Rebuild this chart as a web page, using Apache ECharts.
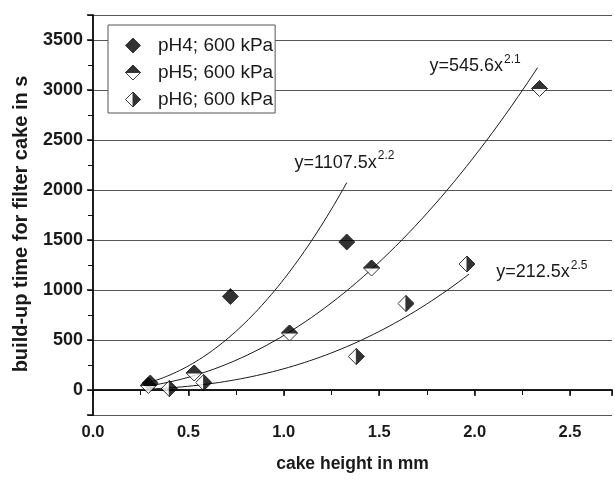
<!DOCTYPE html>
<html>
<head>
<meta charset="utf-8">
<script src="https://cdn.jsdelivr.net/npm/echarts@6/dist/echarts.min.js"></script>
<style>
html, body { margin: 0; padding: 0; background: #fff; }
#chart { width: 615px; height: 482px; }
</style>
</head>
<body>
<div id="chart"></div>
<script>
// Measured build-up times (s) against cake height (mm)
const seriesNames = ['pH4; 600 kPa', 'pH5; 600 kPa', 'pH6; 600 kPa'];

const ph4Height = [0.30, 0.72, 1.33];
const ph4Time   = [70, 935, 1480];

const ph5Height = [0.29, 0.53, 1.03, 1.46, 2.34];
const ph5Time   = [45, 170, 570, 1220, 3015];

const ph6Height = [0.40, 0.58, 1.38, 1.64, 1.96];
const ph6Time   = [15, 75, 335, 865, 1260];

// Power-law fits y = a * x^b, drawn over the measured range
const fitCoef  = [1107.5, 545.6, 212.5];
const fitExp   = [2.2, 2.1, 2.5];
const fitStart = [0.30, 0.30, 0.30];
const fitEnd   = [1.33, 2.33, 1.97];

const xTicks = [0, 0.5, 1.0, 1.5, 2.0, 2.5];
const yTicks = [0, 500, 1000, 1500, 2000, 2500, 3000, 3500];

const FONT = '"Liberation Sans", Arial, Helvetica, sans-serif';

function svgSymbol(inner) {
  const svg = "<svg xmlns='http://www.w3.org/2000/svg' width='34' height='34' viewBox='0 0 34 34'>" + inner + "</svg>";
  return 'image://data:image/svg+xml;charset=utf-8,' + encodeURIComponent(svg);
}
const outline = "<path d='M17 1 L33 17 L17 33 L1 17 Z' fill='white' stroke='black' stroke-width='2'/>";
const symbols = [
  svgSymbol("<path d='M17 1 L33 17 L17 33 L1 17 Z' fill='black' stroke='black' stroke-width='2'/>"),
  svgSymbol(outline + "<path d='M17 1 L33 17 L1 17 Z' fill='black' stroke='black' stroke-width='2'/>"),
  svgSymbol(outline + "<path d='M17 1 L33 17 L17 33 Z' fill='black' stroke='black' stroke-width='2'/>")
];

function fitCurve(i) {
  const pts = [];
  const n = 60;
  for (let k = 0; k <= n; k++) {
    const x = fitStart[i] + (fitEnd[i] - fitStart[i]) * k / n;
    pts.push([x, fitCoef[i] * Math.pow(x, fitExp[i])]);
  }
  return pts;
}

function pair(xs, ys) { return xs.map((x, i) => [x, ys[i]]); }

const eqAnchors = [[1.056, 2290], [1.763, 3255], [2.113, 1195]];

const fitSeries = fitCoef.map((a, i) => ({
  type: 'line',
  name: 'fit' + i,
  data: fitCurve(i),
  showSymbol: false,
  symbol: 'none',
  lineStyle: { color: '#1a1a1a', width: 1 },
  z: 2,
  silent: true,
  markPoint: {
    symbol: 'circle',
    symbolSize: 0,
    silent: true,
    data: [{
      coord: eqAnchors[i],
      label: {
        show: true,
        position: 'right',
        distance: 0,
        formatter: '{b|y=' + a + 'x}{s|' + fitExp[i] + '}',
        rich: {
          b: { fontFamily: FONT, fontSize: 18, color: '#1a1a1a', verticalAlign: 'bottom', lineHeight: 22 },
          s: { fontFamily: FONT, fontSize: 12, color: '#1a1a1a', verticalAlign: 'top', lineHeight: 12, padding: [0, 0, 0, 1] }
        }
      }
    }]
  }
}));

const dataSets = [pair(ph4Height, ph4Time), pair(ph5Height, ph5Time), pair(ph6Height, ph6Time)];
const markerSeries = seriesNames.map((name, i) => ({
  type: 'scatter',
  name: name,
  data: dataSets[i],
  symbol: symbols[i],
  symbolSize: 17,
  itemStyle: { color: '#000' },
  z: 5
}));

const chart = echarts.init(document.getElementById('chart'), null, { renderer: 'canvas' });

const axisLineStyle = { color: '#111', width: 1.5 };

chart.setOption({
  animation: false,
  backgroundColor: '#fff',
  grid: { left: 93, right: 3, top: 15, bottom: 67, containLabel: false },
  legend: {
    orient: 'vertical',
    left: 108,
    top: 25,
    data: seriesNames.map((n, i) => ({ name: n, icon: symbols[i] })),
    itemWidth: 16,
    itemHeight: 16,
    itemGap: 8,
    padding: [11, 2, 4, 17],
    backgroundColor: '#fff',
    borderColor: '#555',
    borderWidth: 1,
    borderRadius: 0,
    textStyle: { fontFamily: FONT, fontSize: 19, color: '#1a1a1a', padding: [0, 0, 0, 12] },
    z: 10
  },
  xAxis: [{
    type: 'value',
    position: 'bottom',
    min: 0,
    max: 2.72,
    splitNumber: 5,
    name: 'cake height in mm',
    nameLocation: 'middle',
    nameGap: 40,
    nameTextStyle: { fontFamily: FONT, fontSize: 17.5, fontWeight: 'bold', color: '#1a1a1a' },
    axisLine: { show: true, lineStyle: axisLineStyle },
    axisTick: { show: true, inside: false, length: 6, lineStyle: { color: '#111', width: 1.5 } },
    minorTick: { show: true, splitNumber: 2, length: 4, lineStyle: { color: '#111', width: 1 } },
    splitLine: { show: false },
    axisLabel: {
      showMaxLabel: false,
      margin: 9,
      fontFamily: FONT, fontSize: 16.5, fontWeight: 'bold', color: '#1a1a1a',
      formatter: v => xTicks.includes(Math.round(v * 100) / 100) ? v.toFixed(1) : ''
    }
  }, {
    type: 'value',
    position: 'top',
    min: 0,
    max: 2.72,
    interval: 0.25,
    axisLine: { show: true, lineStyle: axisLineStyle },
    axisTick: { show: true, inside: true, length: 5, lineStyle: { color: '#111', width: 1 } },
    splitLine: { show: false },
    axisLabel: { show: false }
  }],
  yAxis: [{
    type: 'value',
    position: 'left',
    min: -250,
    max: 3750,
    splitNumber: 8,
    name: 'build-up time for filter cake in s',
    nameLocation: 'middle',
    nameGap: 62,
    nameRotate: 90,
    nameTextStyle: { fontFamily: FONT, fontSize: 20, fontWeight: 'bold', color: '#1a1a1a', padding: [0, 18, 0, 0] },
    axisLine: { show: true, lineStyle: axisLineStyle },
    axisTick: { show: true, inside: false, length: 6, lineStyle: { color: '#111', width: 1.5 } },
    minorTick: { show: true, splitNumber: 2, length: 3, lineStyle: { color: '#111', width: 1 } },
    splitLine: { show: true, lineStyle: { color: '#555', width: 1.2 } },
    axisLabel: {
      showMinLabel: false,
      showMaxLabel: false,
      margin: 10,
      fontFamily: FONT, fontSize: 18, fontWeight: 'bold', color: '#1a1a1a',
      formatter: v => yTicks.includes(v) ? String(v) : ''
    }
  }, {
    type: 'value',
    position: 'right',
    min: -250,
    max: 3750,
    interval: 250,
    axisLine: { show: true, lineStyle: axisLineStyle },
    axisTick: { show: true, inside: true, length: 5, lineStyle: { color: '#111', width: 1 } },
    splitLine: { show: false },
    axisLabel: { show: false }
  }],
  series: fitSeries.concat(markerSeries)
});
</script>
</body>
</html>
